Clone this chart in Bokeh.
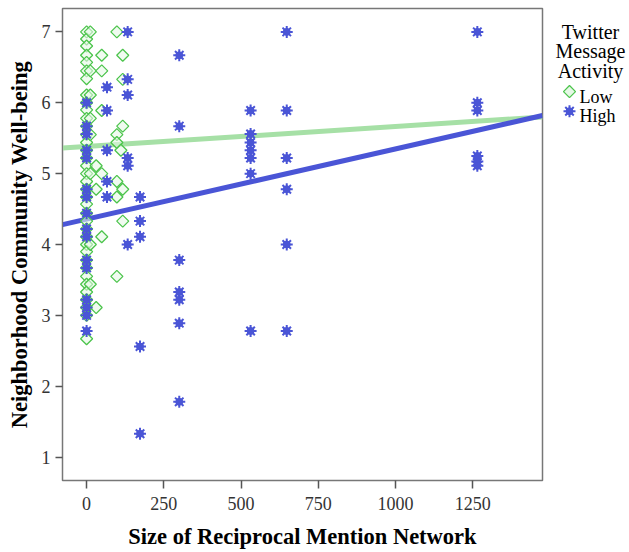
import math
from bokeh.plotting import figure
from bokeh.layouts import row
from bokeh.models import Range1d, FixedTicker, ColumnDataSource, Label
from bokeh.embed import file_html
from bokeh.resources import INLINE

# ---- data ----
low_x = [0]*37 + [12]*8 + [31]*3 + [49]*5 + [98]*6 + [117]*5 + [111]
low_y = [7.0, 6.9, 6.8, 6.67, 6.57, 6.45, 6.34, 6.11, 6.0, 5.9, 5.78, 5.67, 5.55, 5.44,
         5.33, 5.22, 5.11, 5.0, 4.89, 4.78, 4.67, 4.57, 4.44, 4.33, 4.22, 4.11, 4.0, 3.9,
         3.78, 3.67, 3.55, 3.44, 3.33, 3.22, 3.11, 3.0, 2.67,
         7.0, 6.45, 6.11, 5.78, 5.55, 5.0, 4.0, 3.44,
         5.11, 4.78, 3.11,
         6.67, 6.45, 5.89, 5.0, 4.11,
         7.0, 5.55, 5.44, 4.89, 4.67, 3.55,
         6.67, 6.33, 5.67, 4.78, 4.33,
         5.33]

high_x = [0]*16 + [66]*5 + [133]*6 + [173]*5 + [300]*7 + [531]*7 + [648]*6 + [1265]*6
high_y = [6.0, 5.67, 5.56, 5.33, 5.22, 4.78, 4.67, 4.44, 4.22, 4.11, 3.78, 3.67, 3.22, 3.11, 3.0, 2.78,
          6.22, 5.89, 5.33, 4.89, 4.67,
          7.0, 6.33, 6.11, 5.22, 5.11, 4.0,
          4.67, 4.33, 4.11, 2.56, 1.33,
          6.67, 5.67, 3.78, 3.33, 3.22, 2.89, 1.78,
          5.89, 5.56, 5.44, 5.33, 5.22, 5.0, 2.78,
          7.0, 5.89, 5.22, 4.78, 4.0, 2.78,
          7.0, 6.0, 5.89, 5.25, 5.17, 5.11]

fit_x = [-78, 1476]
low_fit_y = [5.36, 5.80]
high_fit_y = [4.28, 5.82]

x_ticks = [0, 250, 500, 750, 1000, 1250]
y_ticks = [1, 2, 3, 4, 5, 6, 7]

legend_title = ["Twitter", "Message", "Activity"]
legend_labels = ["Low", "High"]

GREEN = "#4cc44c"
GREEN_FILL = "#e6f8e6"
GREEN_LINE = "#a6e0a6"
BLUE = "#4a55d6"
SERIF = "Liberation Serif"

H = 551
p = figure(width=544, height=H, output_backend="svg", toolbar_location=None,
           x_range=Range1d(-78, 1476), y_range=Range1d(0.67, 7.33),
           min_border_top=8, min_border_left=62, min_border_bottom=64, min_border_right=2)
p.background_fill_color = "white"
p.border_fill_color = "white"
p.outline_line_color = "#777777"
p.outline_line_width = 1.5
p.xgrid.visible = False
p.ygrid.visible = False

p.line(fit_x, low_fit_y, line_color=GREEN_LINE, line_width=5)
p.line(fit_x, high_fit_y, line_color=BLUE, line_width=5)

low_src = ColumnDataSource(dict(x=low_x, y=low_y))
high_src = ColumnDataSource(dict(x=high_x, y=high_y))
p.scatter("x", "y", source=low_src, marker="square", size=8.5, angle=math.pi / 4,
          line_color=GREEN, fill_color=GREEN_FILL, fill_alpha=0.6, line_width=1.3)
p.scatter("x", "y", source=high_src, marker="asterisk", size=12,
          line_color=BLUE, line_width=2)
p.scatter("x", "y", source=high_src, marker="circle", size=7,
          line_color=BLUE, fill_color=BLUE)

for ax in (p.xaxis[0], p.yaxis[0]):
    ax.axis_line_color = "#777777"
    ax.major_tick_line_color = "#555555"
    ax.major_tick_line_width = 1.5
    ax.major_tick_in = 0
    ax.minor_tick_line_color = None
    ax.major_label_text_font = SERIF
    ax.major_label_text_font_size = "18px"
    ax.major_label_text_color = "#333333"
    ax.axis_label_text_font = SERIF
    ax.axis_label_text_font_style = "bold"
    ax.axis_label_text_font_size = "22.5px"
    ax.axis_label_text_color = "black"

p.xaxis.ticker = FixedTicker(ticks=x_ticks)
p.yaxis.ticker = FixedTicker(ticks=y_ticks)
p.xaxis.axis_label = "Size of Reciprocal Mention Network"
p.yaxis.axis_label = "Neighborhood Community Well-being"
p.xaxis.major_tick_out = 8
p.yaxis.major_tick_out = 7
p.xaxis.major_label_standoff = 8
p.xaxis.axis_label_standoff = 11
p.yaxis.major_label_standoff = 5
p.yaxis.axis_label_standoff = 7

# ---- legend panel (separate small figure; y measured from top) ----
LW = 84
lg = figure(width=LW, height=H, output_backend="svg", toolbar_location=None,
            x_range=Range1d(0, LW), y_range=Range1d(H, 0),
            min_border=0, min_border_left=0, min_border_right=0,
            min_border_top=0, min_border_bottom=0)
lg.axis.visible = False
lg.xgrid.visible = False
lg.ygrid.visible = False
lg.outline_line_color = None
lg.background_fill_color = "white"
lg.border_fill_color = "white"

for i, t in enumerate(legend_title):
    lg.add_layout(Label(x=46, y=27 + i * 23, text=t, text_align="center",
                        text_baseline="alphabetic", text_font=SERIF,
                        text_font_size="20px", text_color="black"))

lg.scatter([25], [97], marker="square", size=8.5, angle=math.pi / 4,
           line_color=GREEN, fill_color=GREEN_FILL, line_width=1.3)
lg.scatter([25], [120], marker="asterisk", size=12, line_color=BLUE, line_width=2)
lg.scatter([25], [120], marker="circle", size=7, line_color=BLUE, fill_color=BLUE)
for i, t in enumerate(legend_labels):
    lg.add_layout(Label(x=35, y=103 + i * 23, text=t, text_align="left",
                        text_baseline="alphabetic", text_font=SERIF,
                        text_font_size="18px", text_color="black"))

layout = row(p, lg, spacing=0)
open("out.html", "w").write(file_html(layout, INLINE))
